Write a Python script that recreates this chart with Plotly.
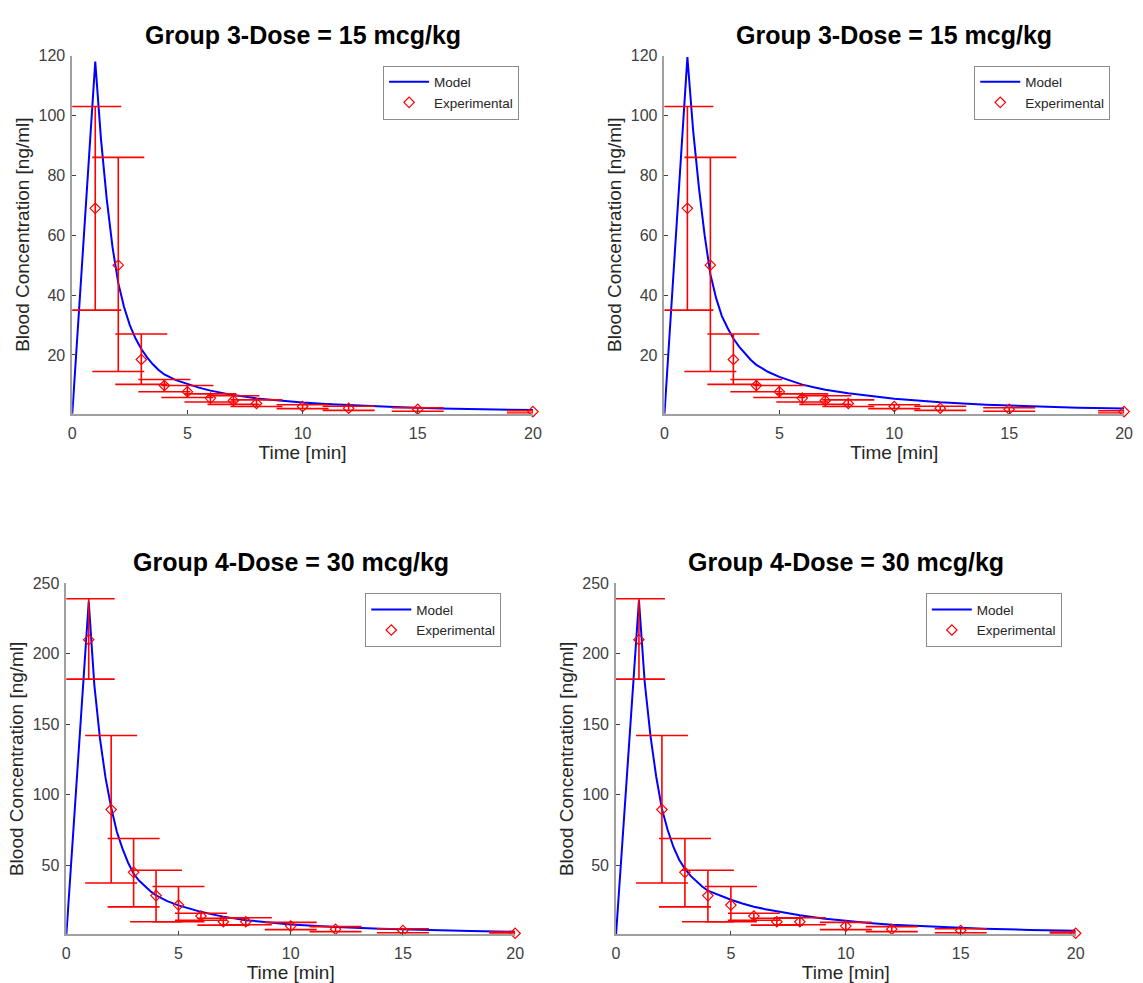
import plotly.graph_objects as go

# Sampling times (min) of the experimental measurements
t_exp = [1, 2, 3, 4, 5, 6, 7, 8, 10, 12, 15, 20]

# Group 3 (15 mcg/kg): mean and upper/lower limits of the error bars (ng/ml)
g3_mean = [69, 50, 18.5, 9.8, 7.7, 5.6, 4.8, 3.8, 2.8, 2.2, 1.9, 1.1]
g3_upper = [103, 86, 27, 11.8, 9.8, 7.0, 6.4, 5.0, 3.4, 2.9, 2.4, 1.4]
g3_lower = [35, 14.5, 10.2, 7.7, 5.8, 4.3, 3.5, 2.8, 2.1, 1.5, 1.2, 0.6]

# Group 4 (30 mcg/kg)
g4_mean = [210, 89.5, 45, 28.5, 21.8, 14, 10, 10, 6.9, 4.7, 3.8, 1.8]
g4_upper = [239, 142, 69, 46.5, 35, 16, 12.5, 12.8, 9.5, 6.5, 5.0, 2.6]
g4_lower = [182, 37.5, 20.5, 10, 10, 11, 7.6, 7.8, 4.4, 3.0, 2.2, 1.2]

# Model predictions (ng/ml) at the model output times (min)
t_model = [0, 1, 1.25, 1.5, 1.75, 2, 2.25, 2.5, 2.75, 3, 3.25, 3.5, 3.75, 4,
           4.5, 5, 5.5, 6, 6.5, 7, 8, 9, 10, 11, 12, 14, 16, 18, 20]
g3_model_a = [0, 118, 92, 72, 56, 44, 36, 30, 25.5, 22, 19.2, 16.9, 15, 13.5,
              11.6, 10.3, 9.1, 8.1, 7.3, 6.6, 5.5, 4.7, 4.1, 3.6, 3.2, 2.6, 2.1, 1.8, 1.6]
g3_model_b = [0, 119.5, 95, 76, 60, 47, 39, 33, 29, 25.5, 22.8, 20.5, 18.4, 16.7,
              14.4, 12.7, 11.3, 10.1, 9.2, 8.4, 7.2, 6.2, 5.4, 4.8, 4.2, 3.4, 2.8, 2.4, 2.1]
g4_model_a = [0, 237, 178, 140, 112, 91, 74, 62, 52, 44, 39, 35, 31.6, 28.7,
              24.6, 21.6, 19.1, 17, 15.2, 13.6, 11.1, 9.4, 8.1, 7.1, 6.2, 5.0, 4.1, 3.4, 2.9]
g4_model_b = [0, 238, 180, 142, 113, 90, 75, 63, 54, 47.5, 42.5, 38.5, 35, 32,
              28.6, 25.6, 22.9, 20.6, 18.9, 17.4, 14.6, 12.3, 10.6, 9.1, 7.8, 6.3, 5.0, 4.2, 3.5]

titles = ["Group 3-Dose = 15 mcg/kg", "Group 3-Dose = 15 mcg/kg",
          "Group 4-Dose = 30 mcg/kg", "Group 4-Dose = 30 mcg/kg"]

W, H = 1143, 983

# panel boxes in pixels: (left, right, top, bottom)
boxes = [(69, 535, 48, 409), (668, 1133, 48, 409),
         (63, 517, 580, 934), (619, 1084, 580, 934)]

panels = [
    (g3_model_a, g3_mean, g3_upper, g3_lower, [0.4, 120], [20, 40, 60, 80, 100, 120]),
    (g3_model_b, g3_mean, g3_upper, g3_lower, [0.4, 120], [20, 40, 60, 80, 100, 120]),
    (g4_model_a, g4_mean, g4_upper, g4_lower, [1, 250], [50, 100, 150, 200, 250]),
    (g4_model_b, g4_mean, g4_upper, g4_lower, [1, 250], [50, 100, 150, 200, 250]),
]

FONT = "Liberation Sans, Arial, sans-serif"
AXIS_GREY = "#a0a0a0"
TICK_TEXT = "#404040"

fig = go.Figure()
layout = dict(
    width=W, height=H,
    margin=dict(l=0, r=0, t=0, b=0),
    paper_bgcolor="white", plot_bgcolor="white",
    font=dict(family=FONT, color="#262626"),
    annotations=[],
)

for i, (model, mean, upper, lower, yr, yt) in enumerate(panels):
    k = "" if i == 0 else str(i + 1)
    xa, ya = "x" + k, "y" + k
    lg = "legend" + k
    left, right, top, bottom = boxes[i]

    fig.add_trace(go.Scatter(
        x=t_model, y=model, mode="lines", name="Model",
        line=dict(color="#0000ff", width=2),
        xaxis=xa, yaxis=ya, legend=lg, hoverinfo="skip",
    ))
    # error bars (clipped to the axes)
    fig.add_trace(go.Scatter(
        x=t_exp, y=mean, mode="markers",
        marker=dict(size=1, color="rgba(0,0,0,0)"),
        error_y=dict(type="data", symmetric=False,
                     array=[u - m for u, m in zip(upper, mean)],
                     arrayminus=[m - l for m, l in zip(mean, lower)],
                     color="#ff0000", thickness=1.6, width=26),
        xaxis=xa, yaxis=ya, showlegend=False, hoverinfo="skip",
    ))
    fig.add_trace(go.Scatter(
        x=t_exp, y=mean, mode="markers", name="Experimental",
        marker=dict(symbol="diamond-open", size=8, color="#ff0000",
                    line=dict(width=1.2, color="#ff0000")),
        cliponaxis=False,
        xaxis=xa, yaxis=ya, legend=lg,
    ))

    layout["xaxis" + k] = dict(
        domain=[left / W, right / W], anchor=ya, range=[0, 20],
        tickvals=[0, 5, 10, 15, 20], ticks="inside", ticklen=4,
        tickcolor="#404040", showline=True, linecolor=AXIS_GREY, linewidth=1.5,
        showgrid=False, zeroline=False, ticklabelstandoff=4,
        tickfont=dict(size=16, color=TICK_TEXT),
        title=dict(text="Time [min]", font=dict(size=19, color="#262626"), standoff=3),
    )
    layout["yaxis" + k] = dict(
        domain=[1 - bottom / H, 1 - top / H], anchor=xa, range=yr,
        tickvals=yt, ticks="inside", ticklen=4,
        tickcolor="#404040", showline=True, linecolor=AXIS_GREY, linewidth=1.5,
        showgrid=False, zeroline=False, ticklabelstandoff=2,
        tickfont=dict(size=16, color=TICK_TEXT),
        title=dict(text="Blood Concentration [ng/ml]", font=dict(size=19, color="#262626"), standoff=4),
    )
    layout[lg] = dict(
        x=(right - 14) / W, y=1 - (top + 10) / H, xanchor="right", yanchor="top",
        xref="paper", yref="paper",
        bgcolor="white", bordercolor="#8c8c8c", borderwidth=1,
        font=dict(size=13.5, color="#262626", family=FONT),
        tracegroupgap=0, itemwidth=40,
    )
    layout["annotations"].append(dict(
        text="<b>" + titles[i] + "</b>", xref="paper", yref="paper",
        x=(left + right) / 2 / W, y=1 - (top - 21) / H,
        xanchor="center", yanchor="middle", showarrow=False,
        font=dict(size=25, color="#000000", family=FONT),
    ))

fig.update_layout(**layout)
fig.write_html("out.html")
